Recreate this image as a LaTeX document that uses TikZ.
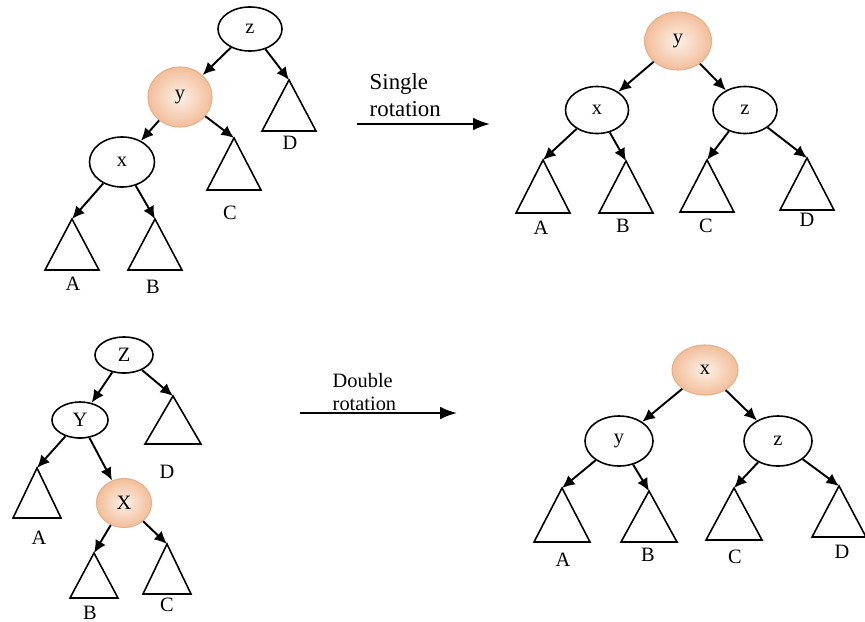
\documentclass[tikz,border=0pt]{standalone}
\usepackage{fontspec}
\setmainfont{Liberation Serif}
\usetikzlibrary{positioning}
\usetikzlibrary{shapes.geometric}
\usetikzlibrary{arrows.meta}

\definecolor{peachin}{RGB}{253,240,230}
\definecolor{peachout}{RGB}{242,190,154}
\definecolor{peachline}{RGB}{230,176,140}

\tikzset{
  key/.style={ellipse, draw, line width=0.45pt, inner sep=0pt, font=\fontsize{5.8}{6}\selectfont},
  hot/.style={ellipse, draw=peachline, line width=0.3pt, inner sep=0pt, inner color=peachin, outer color=peachout, font=\fontsize{5.8}{6}\selectfont},
  arr/.style={-{Latex[length=3.6pt,width=3.3pt]}, line width=0.55pt},
  bigarr/.style={-{Latex[length=4.8pt,width=3.6pt]}, line width=0.55pt},
  sub/.style={line width=0.45pt},
  lab/.style={inner sep=0pt, font=\fontsize{5.8}{6}\selectfont},
  note/.style={inner sep=0pt, align=left, font=\fontsize{6.5}{7.5}\selectfont}
}

\begin{document}
\begin{tikzpicture}[x=0.01cm, y=-0.01cm]

\useasboundingbox (0,0) rectangle (865,621);

% top left: before single rotation
{
\node[key, minimum width=0.64cm, minimum height=0.44cm] (z1) at (250,29) {z};
\node[hot, minimum width=0.64cm, minimum height=0.60cm] (y1) at (180,97) {y};
\node[key, minimum width=0.65cm, minimum height=0.50cm] (x1) at (122,162) {x};

\coordinate (tD1) at (289,80);
\coordinate (tC1) at (234,138);
\coordinate (tA1) at (72,219);
\coordinate (tB1) at (155,219);

\draw[sub] (tD1)--++(-27,51)--++(54,0)--cycle;
\draw[sub] (tC1)--++(-27,52)--++(54,0)--cycle;
\draw[sub] (tA1)--++(-27,51)--++(54,0)--cycle;
\draw[sub] (tB1)--++(-27,51)--++(54,0)--cycle;

\draw[arr] (z1) -- (y1);
\draw[arr] (z1) -- (tD1);
\draw[arr] (y1) -- (x1);
\draw[arr] (y1) -- (tC1);
\draw[arr] (x1) -- (tA1);
\draw[arr] (x1) -- (tB1);

\node[lab] (lD1) at (290,143) {D};
\node[lab] (lC1) at (230,213) {C};
\node[lab] (lA1) at (73,284) {A};
\node[lab] (lB1) at (153,287) {B};
}

% single rotation
{
\coordinate (s1) at (357,124);
\coordinate (e1) at (490,124);
\draw[bigarr] (s1) -- (e1);
\node[note, anchor=west] (n1) at (369,95) {Single\\rotation};
}

% top right: after single rotation
{
\node[hot, minimum width=0.67cm, minimum height=0.58cm] (y2) at (678,41) {y};
\node[key, minimum width=0.63cm, minimum height=0.47cm] (x2) at (597,110) {x};
\node[key, minimum width=0.64cm, minimum height=0.47cm] (z2) at (745,110) {z};

\coordinate (tA2) at (543,160);
\coordinate (tB2) at (626,161);
\coordinate (tC2) at (707,160);
\coordinate (tD2) at (807,158);

\draw[sub] (tA2)--++(-27,53)--++(54,0)--cycle;
\draw[sub] (tB2)--++(-27,52)--++(54,0)--cycle;
\draw[sub] (tC2)--++(-27,52)--++(54,0)--cycle;
\draw[sub] (tD2)--++(-27,52)--++(54,0)--cycle;

\draw[arr] (y2) -- (x2);
\draw[arr] (y2) -- (z2);
\draw[arr] (x2) -- (tA2);
\draw[arr] (x2) -- (tB2);
\draw[arr] (z2) -- (tC2);
\draw[arr] (z2) -- (tD2);

\node[lab] (lA2) at (541,228) {A};
\node[lab] (lB2) at (623,226) {B};
\node[lab] (lC2) at (706,226) {C};
\node[lab] (lD2) at (807,220) {D};
}

% bottom left: before double rotation
{
\node[key, minimum width=0.58cm, minimum height=0.36cm] (z3) at (124,355) {Z};
\node[key, minimum width=0.56cm, minimum height=0.36cm] (y3) at (80,420) {Y};
\node[hot, minimum width=0.55cm, minimum height=0.49cm] (x3) at (124,503) {X};

\coordinate (tD3) at (173,396);
\coordinate (tA3) at (37,468);
\coordinate (tB3) at (94,553);
\coordinate (tC3) at (167,544);

\draw[sub] (tD3)--++(-28,48)--++(56,0)--cycle;
\draw[sub] (tA3)--++(-24,50)--++(48,0)--cycle;
\draw[sub] (tB3)--++(-24,45)--++(48,0)--cycle;
\draw[sub] (tC3)--++(-24,50)--++(48,0)--cycle;

\draw[arr] (z3) -- (y3);
\draw[arr] (z3) -- (tD3);
\draw[arr] (y3) -- (tA3);
\draw[arr] (y3) -- (x3);
\draw[arr] (x3) -- (tB3);
\draw[arr] (x3) -- (tC3);

\node[lab] (lD3) at (167,472) {D};
\node[lab] (lA3) at (39,538) {A};
\node[lab] (lB3) at (90,613) {B};
\node[lab] (lC3) at (167,605) {C};
}

% double rotation
{
\coordinate (s2) at (300,413);
\coordinate (e2) at (457,413);
\draw[bigarr] (s2) -- (e2);
\node[note, anchor=west, font=\fontsize{5.8}{6.8}\selectfont] (n2) at (332,392) {Double\\rotation};
}

% bottom right: after double rotation
{
\node[hot, minimum width=0.66cm, minimum height=0.50cm] (x4) at (705,370) {x};
\node[key, minimum width=0.68cm, minimum height=0.50cm] (y4) at (619,441) {y};
\node[key, minimum width=0.68cm, minimum height=0.50cm] (z4) at (778,441) {z};

\coordinate (tA4) at (562,488);
\coordinate (tB4) at (649,491);
\coordinate (tC4) at (734,488);
\coordinate (tD4) at (839,486);

\draw[sub] (tA4)--++(-28,54)--++(56,0)--cycle;
\draw[sub] (tB4)--++(-28,51)--++(56,0)--cycle;
\draw[sub] (tC4)--++(-28,52)--++(56,0)--cycle;
\draw[sub] (tD4)--++(-27,51)--++(54,0)--cycle;

\draw[arr] (x4) -- (y4);
\draw[arr] (x4) -- (z4);
\draw[arr] (y4) -- (tA4);
\draw[arr] (y4) -- (tB4);
\draw[arr] (z4) -- (tC4);
\draw[arr] (z4) -- (tD4);

\node[lab] (lA4) at (563,560) {A};
\node[lab] (lB4) at (648,555) {B};
\node[lab] (lC4) at (735,557) {C};
\node[lab] (lD4) at (842,552) {D};
}

\end{tikzpicture}
\end{document}
